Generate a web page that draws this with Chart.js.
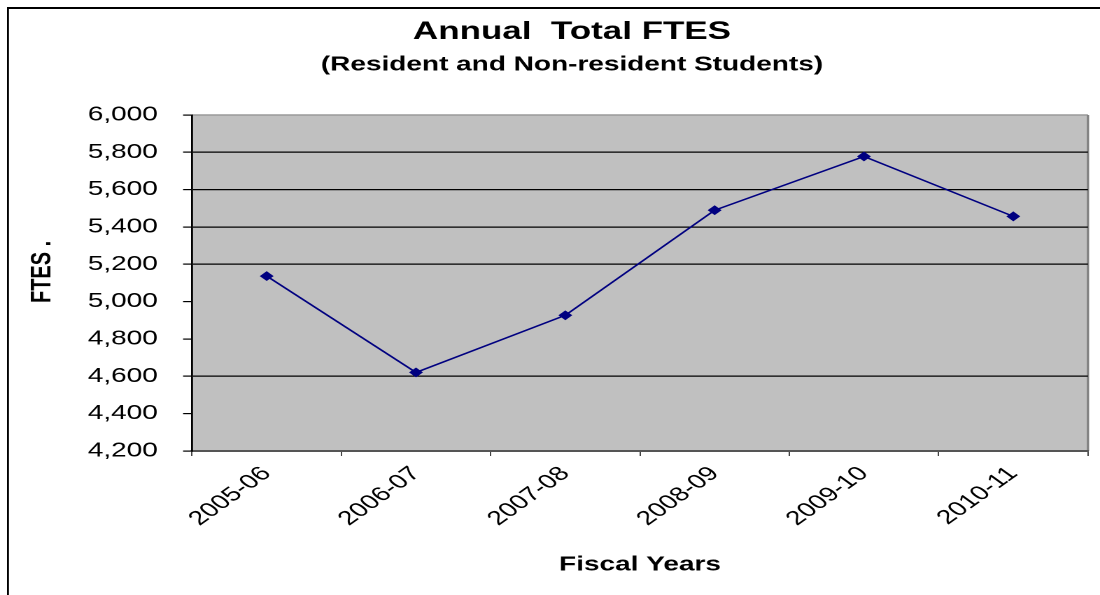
<!DOCTYPE html>
<html>
<head>
<meta charset="utf-8">
<script src="https://cdn.jsdelivr.net/npm/chart.js@4.4.1/dist/chart.umd.min.js"></script>
<style>
  html, body { margin: 0; padding: 0; background: #fff; overflow: hidden; }
  /* The reference picture is horizontally stretched (~1.4x); draw at 786px wide and stretch to 1100px */
  #wrap { width: 786px; height: 595px; position: absolute; left: 0; top: 0;
          transform: scaleX(1.39949); transform-origin: 0 0; }
</style>
</head>
<body>
<div id="wrap"><canvas id="c" width="786" height="595"></canvas></div>
<script>
const categories = ['2005-06', '2006-07', '2007-08', '2008-09', '2009-10', '2010-11'];
const ftesValues = [5137, 4621, 4927, 5490, 5778, 5457];
const yMin = 4200;
const yMax = 6000;
const yStep = 200;
const gridLineValues = [5800, 5600, 5400, 5200, 4600];

const FONT = "'Liberation Sans', Arial, sans-serif";

const framePlugin = {
  id: 'frame',
  beforeDraw(chart) {
    const ctx = chart.ctx;
    const a = chart.chartArea;
    ctx.save();
    ctx.fillStyle = '#fff';
    ctx.fillRect(0, 0, chart.width, chart.height);
    ctx.strokeStyle = '#000';
    ctx.lineWidth = 1.4;
    ctx.beginPath();
    ctx.moveTo(5.7, chart.height);
    ctx.lineTo(5.7, 8);
    ctx.stroke();
    ctx.lineWidth = 2;
    ctx.beginPath();
    ctx.moveTo(5, 8);
    ctx.lineTo(chart.width, 8);
    ctx.stroke();
    ctx.fillStyle = '#C0C0C0';
    ctx.fillRect(a.left, a.top, a.right - a.left, a.bottom - a.top);
    ctx.strokeStyle = '#9a9a9a';
    ctx.lineWidth = 1.5;
    ctx.beginPath();
    ctx.moveTo(a.left, a.top);
    ctx.lineTo(a.right, a.top);
    ctx.stroke();
    ctx.strokeStyle = '#808080';
    ctx.lineWidth = 1.6;
    ctx.beginPath();
    ctx.moveTo(a.right, a.top);
    ctx.lineTo(a.right, a.bottom);
    ctx.stroke();
    ctx.restore();
  }
};

new Chart(document.getElementById('c'), {
  type: 'line',
  data: {
    labels: categories,
    datasets: [{
      label: 'FTES',
      data: ftesValues,
      borderColor: '#000080',
      backgroundColor: '#000080',
      borderWidth: 1.5,
      pointStyle: 'rectRot',
      pointRadius: 3.9,
      pointBackgroundColor: '#000080',
      pointBorderColor: '#000080',
      tension: 0,
      fill: false
    }]
  },
  options: {
    responsive: false,
    animation: false,
    devicePixelRatio: 2,
    layout: { padding: { left: 40, right: 8.6, top: 0, bottom: 0 } },
    plugins: {
      legend: { display: false },
      tooltip: { enabled: false },
      title: {
        display: true,
        text: 'Annual  Total FTES',
        color: '#000',
        font: { family: FONT, size: 25, weight: 'bold', lineHeight: 1.2 },
        padding: { top: 17, bottom: 6 }
      },
      subtitle: {
        display: true,
        text: '(Resident and Non-resident Students)',
        color: '#000',
        font: { family: FONT, size: 20, weight: 'bold', lineHeight: 1.2 },
        padding: { top: 0, bottom: 38 }
      }
    },
    scales: {
      x: {
        type: 'category',
        offset: true,
        grid: {
          offset: true,
          drawOnChartArea: false,
          color: '#000',
          tickColor: '#444',
          tickLength: 5,
          lineWidth: 1
        },
        border: { color: '#555', width: 2 },
        ticks: {
          color: '#000',
          font: { family: FONT, size: 20 },
          minRotation: 45,
          maxRotation: 45,
          padding: 6
        },
        title: {
          display: true,
          text: 'Fiscal Years',
          color: '#000',
          font: { family: FONT, size: 20, weight: 'bold', lineHeight: 1.2 },
          padding: { top: 0, bottom: 18 }
        },
        afterFit(scale) { scale.height = 144; }
      },
      y: {
        min: yMin,
        max: yMax,
        grid: {
          color: (ctx) => (ctx.tick && gridLineValues.includes(ctx.tick.value)) ? '#000' : 'rgba(0,0,0,0)',
          tickColor: '#000',
          tickLength: 6.4,
          lineWidth: 1.2
        },
        border: { color: '#000', width: 1.4 },
        ticks: {
          stepSize: yStep,
          color: '#000',
          font: { family: FONT, size: 20 },
          padding: 18,
          callback: (v) => v.toLocaleString('en-US')
        },
        title: {
          display: true,
          text: '    FTES .',
          color: '#000',
          font: { family: FONT, size: 20, weight: 'bold', lineHeight: 1.2 },
          padding: { top: -21.6, bottom: 0 }
        },
        afterFit(scale) { scale.width = 97.2; }
      }
    }
  },
  plugins: [framePlugin]
});
</script>
</body>
</html>
